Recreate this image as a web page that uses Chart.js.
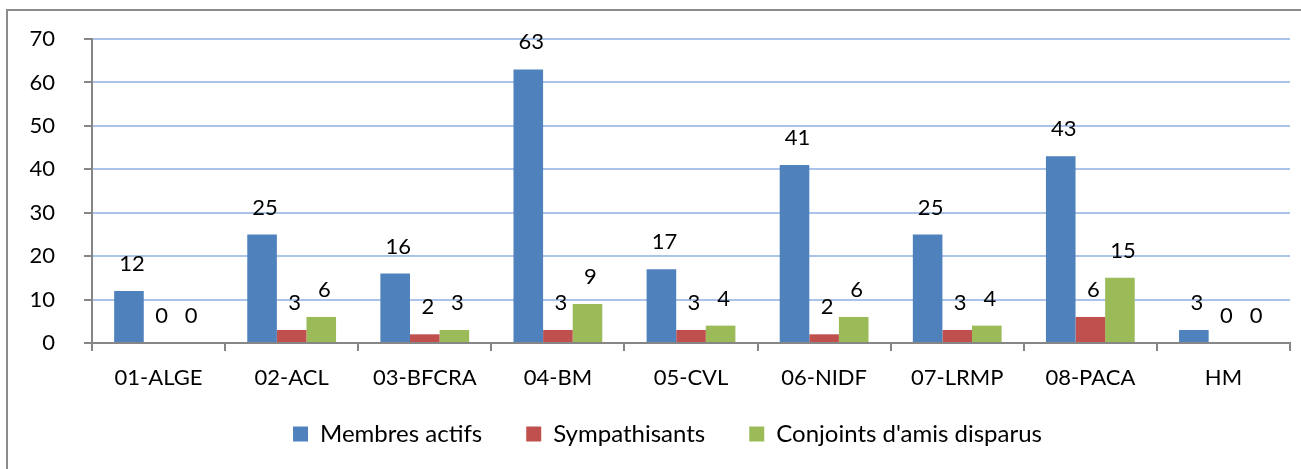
<!DOCTYPE html>
<html>
<head>
<meta charset="utf-8">
<script src="https://cdn.jsdelivr.net/npm/chart.js@4"></script>
<style>
  html, body { margin: 0; padding: 0; background: #fff; overflow: hidden; }
  #wrap { position: absolute; left: 0; top: 0; width: 1301px; height: 469px; }
</style>
</head>
<body>
<div id="wrap"><canvas id="c" width="1301" height="469"></canvas></div>
<script>
const categories = ['01-ALGE', '02-ACL', '03-BFCRA', '04-BM', '05-CVL', '06-NIDF', '07-LRMP', '08-PACA', 'HM'];
const membresActifs = [12, 25, 16, 63, 17, 41, 25, 43, 3];
const sympathisants = [0, 3, 2, 3, 3, 2, 3, 6, 0];
const conjoints = [0, 6, 3, 9, 4, 6, 4, 15, 0];
const seriesNames = ['Membres actifs', 'Sympathisants', "Conjoints d'amis disparus"];
const yTicks = [0, 10, 20, 30, 40, 50, 60, 70];

const FONT = 'Lato, "Open Sans", sans-serif';

const framePlugin = {
  id: 'frame',
  beforeDraw(chart) {
    const ctx = chart.ctx;
    ctx.save();
    ctx.fillStyle = '#fff';
    ctx.fillRect(0, 0, chart.width, chart.height);
    ctx.strokeStyle = '#8c8c8c';
    ctx.lineWidth = 2;
    ctx.beginPath();
    ctx.moveTo(7, chart.height + 5);
    ctx.lineTo(7, 10);
    ctx.lineTo(chart.width + 5, 10);
    ctx.stroke();
    ctx.restore();
  }
};

// place the legend row like the original (centred on the frame, row centre at y=434)
const legendPlacePlugin = {
  id: 'legendPlace',
  afterLayout(chart) {
    const lg = chart.legend;
    if (!lg) return;
    const dx = 22.5;
    const newTop = 378;
    const dy = newTop - lg.top;
    lg.left += dx; lg.right += dx;
    lg.top += dy; lg.bottom += dy;
  }
};

const labelPlugin = {
  id: 'valueLabels',
  afterDatasetsDraw(chart) {
    const ctx = chart.ctx;
    ctx.save();
    ctx.fillStyle = '#000';
    ctx.font = '22px ' + FONT;
    ctx.textAlign = 'center';
    ctx.textBaseline = 'middle';
    chart.data.datasets.forEach((ds, i) => {
      const meta = chart.getDatasetMeta(i);
      meta.data.forEach((el, j) => {
        ctx.fillText(String(ds.data[j]), el.x + 3, el.y - 27);
      });
    });
    ctx.restore();
  }
};

new Chart(document.getElementById('c'), {
  type: 'bar',
  data: {
    labels: categories,
    datasets: [
      { label: seriesNames[0], data: membresActifs, backgroundColor: '#4F81BD' },
      { label: seriesNames[1], data: sympathisants, backgroundColor: '#C0504D' },
      { label: seriesNames[2], data: conjoints, backgroundColor: '#9BBB59' }
    ]
  },
  options: {
    responsive: false,
    animation: false,
    devicePixelRatio: 1,
    layout: { padding: { top: 39, right: 11, left: 0, bottom: -12 } },
    datasets: { bar: { categoryPercentage: 0.667, barPercentage: 1.0 } },
    plugins: {
      tooltip: { enabled: false },
      legend: {
        position: 'bottom',
        labels: {
          font: { family: FONT, size: 24 },
          color: '#000',
          boxWidth: 15,
          boxHeight: 15,
          padding: 44
        }
      }
    },
    scales: {
      x: {
        grid: { drawOnChartArea: false, drawTicks: true, tickLength: 8, tickColor: '#868686', lineWidth: 2, offset: true },
        border: { color: '#868686', width: 2 },
        ticks: { font: { family: FONT, size: 22 }, color: '#000', padding: 14 },
        afterFit(scale) { scale.height = 60; }
      },
      y: {
        min: 0, max: 70,
        afterBuildTicks(scale) { scale.ticks = yTicks.map(v => ({ value: v })); },
        grid: { color: '#ABC3E9', lineWidth: 2, tickLength: 8, tickColor: '#868686' },
        border: { color: '#868686', width: 2 },
        ticks: { font: { family: FONT, size: 22 }, color: '#000', padding: 29 },
        afterFit(scale) { scale.width = 92; scale.paddingTop = 0; scale.paddingBottom = 0; }
      }
    }
  },
  plugins: [framePlugin, legendPlacePlugin, labelPlugin]
});
</script>
</body>
</html>
